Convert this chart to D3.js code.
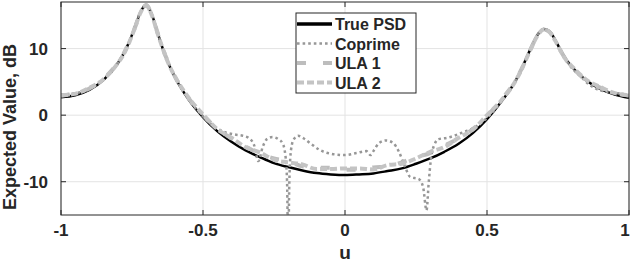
<!DOCTYPE html>
<html><head><meta charset="utf-8">
<script src="https://cdn.jsdelivr.net/npm/d3@7"></script>
<style>
html,body{margin:0;padding:0;background:#fff;}
svg text{font-family:"Liberation Sans",Arial,Helvetica,sans-serif;font-weight:bold;fill:#262626;}
</style></head>
<body><svg id="c" width="632" height="264"></svg>
<script>
// ---- data ----
const u = [-1,-0.95,-0.9,-0.85,-0.8,-0.78,-0.76,-0.74,-0.72,-0.7,-0.68,-0.66,-0.64,-0.62,-0.6,-0.55,-0.5,-0.45,-0.4,-0.35,-0.3,-0.25,-0.2,-0.15,-0.1,-0.05,0,0.05,0.1,0.15,0.2,0.25,0.3,0.35,0.4,0.45,0.5,0.55,0.6,0.62,0.64,0.66,0.68,0.7,0.72,0.74,0.76,0.78,0.8,0.85,0.9,0.95,1];
const truePSD = [2.7,3.0,3.8,5.3,7.8,9.2,11.0,13.2,15.5,16.6,15.1,12.4,9.8,7.6,5.8,2.3,-0.3,-2.4,-4.0,-5.3,-6.3,-7.2,-7.8,-8.3,-8.7,-8.9,-9.0,-8.9,-8.75,-8.4,-8.0,-7.3,-6.5,-5.5,-4.3,-2.7,-0.6,2.0,5.1,6.8,8.7,10.6,12.2,12.95,12.6,11.3,9.7,8.3,7.2,5.2,3.9,3.1,2.6];
const ula1 = [2.9,3.3,4.0,5.5,7.9,9.2,11.0,13.1,15.4,16.5,15.0,12.4,9.8,7.7,5.9,2.5,0.0,-2.0,-3.5,-4.7,-5.8,-6.5,-6.9,-7.7,-7.9,-7.9,-8.2,-8.2,-7.85,-7.7,-7.1,-6.3,-5.7,-4.6,-3.5,-2.1,-0.1,2.3,5.2,6.8,8.6,10.5,12.1,12.85,12.5,11.2,9.6,8.2,7.2,5.2,4.1,3.4,2.9];
const ula2 = [3.0,3.2,4.1,5.4,7.8,9.1,10.9,13.1,15.4,16.5,15.0,12.3,9.8,7.6,5.9,2.6,0.1,-2.1,-3.4,-4.8,-5.6,-6.7,-7.1,-7.4,-8.1,-8.1,-8.0,-8.0,-8.15,-7.5,-7.3,-6.5,-5.5,-4.8,-3.4,-2.2,0.0,2.2,5.1,6.7,8.6,10.5,12.1,12.85,12.5,11.2,9.6,8.2,7.3,5.3,4.2,3.3,3.0];
const coprimeU = [-1,-0.95,-0.9,-0.85,-0.8,-0.76,-0.72,-0.7,-0.68,-0.64,-0.6,-0.55,-0.5,-0.45,-0.42,-0.39,-0.36,-0.34,-0.32,-0.305,-0.29,-0.275,-0.255,-0.235,-0.22,-0.21,-0.204,-0.2,-0.196,-0.19,-0.18,-0.165,-0.145,-0.12,-0.09,-0.05,0,0.04,0.075,0.09,0.1,0.12,0.145,0.17,0.19,0.21,0.23,0.26,0.275,0.287,0.295,0.302,0.315,0.33,0.36,0.39,0.42,0.45,0.5,0.55,0.6,0.64,0.68,0.7,0.72,0.76,0.8,0.83,0.86,0.9,0.93,0.96,1];
const coprime = [3.1,3.3,3.9,5.4,7.8,11.0,15.4,16.5,15.0,9.8,5.8,2.4,-0.2,-2.0,-2.6,-2.9,-3.1,-3.4,-4.5,-6.9,-4.8,-3.6,-3.3,-3.6,-4.2,-6.0,-10,-20,-10,-5.2,-3.6,-3.1,-3.5,-4.3,-5.2,-5.8,-6.0,-5.7,-5.4,-6.0,-5.4,-4.2,-3.8,-4.2,-5.5,-7.6,-9.3,-9.6,-10.8,-14.3,-10,-6.8,-4.4,-3.6,-3.4,-3.0,-2.5,-2.0,-0.4,2.0,5.1,8.6,12.2,12.9,12.6,9.5,7.0,5.8,4.6,3.7,3.5,3.3,3.0];
const xTicks = [-1,-0.5,0,0.5,1];
const xTickLabels = ["-1","-0.5","0","0.5","1"];
const yTicks = [-10,0,10];
const yTickLabels = ["-10","0","10"];
const legendNames = ["True PSD","Coprime","ULA 1","ULA 2"];

// ---- layout ----
const L = 61, R = 629, T = 2, B = 215;
const svg = d3.select("#c");
const x = d3.scaleLinear().domain([-1,1]).range([L,R]);
const y = d3.scaleLinear().domain([-15,17]).range([B,T]);

// grid
const g = svg.append("g");
g.selectAll(".gx").data(xTicks).join("line")
  .attr("x1",d=>x(d)).attr("x2",d=>x(d)).attr("y1",T).attr("y2",B)
  .attr("stroke","#e3e3e3").attr("stroke-width",1);
g.selectAll(".gy").data(yTicks).join("line")
  .attr("y1",d=>y(d)).attr("y2",d=>y(d)).attr("x1",L).attr("x2",R)
  .attr("stroke","#e3e3e3").attr("stroke-width",1);

// clip
svg.append("clipPath").attr("id","clip").append("rect")
  .attr("x",L).attr("y",T).attr("width",R-L).attr("height",B-T);

const plot = svg.append("g").attr("clip-path","url(#clip)");
const line = (xs) => d3.line().x((d,i)=>x(xs[i])).y(d=>y(d)).curve(d3.curveMonotoneX);

const styles = [
  {stroke:"#000000", w:2.5, dash:null},
  {stroke:"#979797", w:2.5, dash:"2.6,3"},
  {stroke:"#bdbdbd", w:4, dash:"9,17"},
  {stroke:"#c4c4c4", w:4, dash:"7,3"}
];
plot.append("path").datum(truePSD).attr("d",line(u)).attr("fill","none")
  .attr("stroke",styles[0].stroke).attr("stroke-width",styles[0].w);
plot.append("path").datum(coprime).attr("d",line(coprimeU)).attr("fill","none")
  .attr("stroke",styles[1].stroke).attr("stroke-width",styles[1].w).attr("stroke-dasharray",styles[1].dash);
plot.append("path").datum(ula1).attr("d",line(u)).attr("fill","none")
  .attr("stroke",styles[2].stroke).attr("stroke-width",styles[2].w).attr("stroke-dasharray",styles[2].dash);
plot.append("path").datum(ula2).attr("d",line(u)).attr("fill","none")
  .attr("stroke",styles[3].stroke).attr("stroke-width",styles[3].w).attr("stroke-dasharray",styles[3].dash);

// axes box with inward ticks
const ax = svg.append("g");
ax.append("rect").attr("x",L).attr("y",T).attr("width",R-L).attr("height",B-T)
  .attr("fill","none").attr("stroke","#262626").attr("stroke-width",1);
const tl = 5;
ax.selectAll(".tb").data(xTicks).join("line").attr("x1",d=>x(d)).attr("x2",d=>x(d))
  .attr("y1",B).attr("y2",B-tl).attr("stroke","#262626");
ax.selectAll(".tt").data(xTicks).join("line").attr("x1",d=>x(d)).attr("x2",d=>x(d))
  .attr("y1",T).attr("y2",T+tl).attr("stroke","#262626");
ax.selectAll(".tl").data(yTicks).join("line").attr("y1",d=>y(d)).attr("y2",d=>y(d))
  .attr("x1",L).attr("x2",L+tl).attr("stroke","#262626");
ax.selectAll(".tr").data(yTicks).join("line").attr("y1",d=>y(d)).attr("y2",d=>y(d))
  .attr("x1",R).attr("x2",R-tl).attr("stroke","#262626");

ax.selectAll(".xl").data(xTicks).join("text")
  .attr("x",d=>Math.min(x(d),625)).attr("y",236).attr("text-anchor","middle")
  .attr("font-size",17).text((d,i)=>xTickLabels[i]);
ax.selectAll(".yl").data(yTicks).join("text")
  .attr("x",L-13).attr("y",d=>y(d)+6).attr("text-anchor","end")
  .attr("font-size",17).text((d,i)=>yTickLabels[i]);

svg.append("text").attr("x",x(0)).attr("y",259).attr("text-anchor","middle")
  .attr("font-size",19).text("u");
svg.append("text").attr("transform","translate(16,127) rotate(-90)")
  .attr("text-anchor","middle").attr("font-size",18).text("Expected Value, dB");

// legend
const lg = svg.append("g");
lg.append("rect").attr("x",296).attr("y",13).attr("width",120).attr("height",80)
  .attr("fill","#fff").attr("stroke","#262626").attr("stroke-width",1);
legendNames.forEach((name,i)=>{
  const cy = 24 + i*19.5;
  const s = styles[i];
  const ln = lg.append("line").attr("x1",297).attr("x2",332).attr("y1",cy).attr("y2",cy)
    .attr("stroke",s.stroke).attr("stroke-width",i===0?3.5:s.w);
  if(s.dash) ln.attr("stroke-dasharray",s.dash);
  lg.append("text").attr("x",335).attr("y",cy+6).attr("font-size",16).text(name);
});
</script></body></html>
